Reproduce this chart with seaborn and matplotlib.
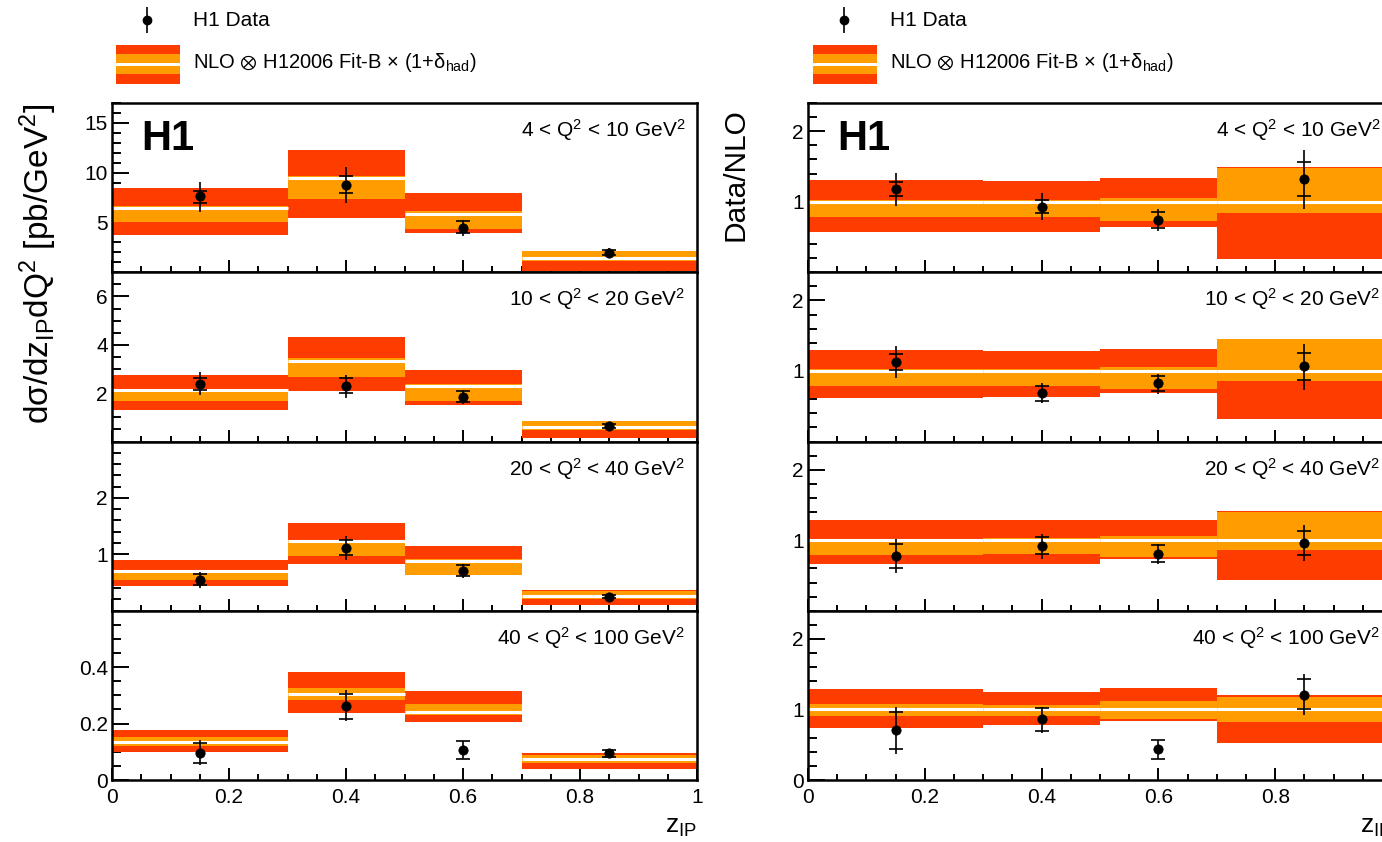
import numpy as np
import pandas as pd
import matplotlib
matplotlib.use("Agg")
import matplotlib.pyplot as plt
from matplotlib.patches import Rectangle
from matplotlib.ticker import FixedLocator, MultipleLocator, FuncFormatter
import seaborn as sns

# bins in z_IP and data point positions
bin_edges = [0.0, 0.3, 0.5, 0.7, 1.0]
z_points = [0.15, 0.4, 0.6, 0.85]
q2_labels = ["4 < Q$^\\mathregular{2}$ < 10 GeV$^\\mathregular{2}$",
             "10 < Q$^\\mathregular{2}$ < 20 GeV$^\\mathregular{2}$",
             "20 < Q$^\\mathregular{2}$ < 40 GeV$^\\mathregular{2}$",
             "40 < Q$^\\mathregular{2}$ < 100 GeV$^\\mathregular{2}$"]

# cross sections (left column), one row per Q2 bin
xs_data = [[7.64, 8.79, 4.44, 1.95], [2.38, 2.30, 1.85, 0.63],
           [0.54, 1.12, 0.71, 0.25], [0.097, 0.262, 0.108, 0.095]]
xs_stat_lo = [[7.0, 7.98, 3.91, 1.7], [2.15, 1.99, 1.63, 0.55],
              [0.46, 0.99, 0.62, 0.22], [0.060, 0.218, 0.075, 0.082]]
xs_stat_hi = [[8.2, 9.66, 5.12, 2.2], [2.63, 2.63, 2.08, 0.71],
              [0.65, 1.25, 0.81, 0.28], [0.131, 0.306, 0.140, 0.106]]
xs_tot_lo = [[6.1, 6.97, 3.67, 1.45], [1.92, 1.81, 1.56, 0.48],
             [0.40, 0.90, 0.58, 0.19], [0.052, 0.208, 0.075, 0.079]]
xs_tot_hi = [[9.1, 10.57, 5.29, 2.42], [2.86, 2.77, 2.12, 0.77],
             [0.68, 1.33, 0.82, 0.30], [0.141, 0.318, 0.140, 0.108]]
nlo_central = [[6.46, 9.46, 5.89, 1.45], [2.11, 3.33, 2.29, 0.59],
               [0.70, 1.23, 0.89, 0.26], [0.134, 0.304, 0.241, 0.075]]
nlo_scale_lo = [[5.08, 7.37, 4.38, 1.11], [1.67, 2.67, 1.68, 0.48],
                [0.55, 0.97, 0.64, 0.21], [0.120, 0.282, 0.232, 0.060]]
nlo_scale_hi = [[6.63, 9.63, 6.13, 2.09], [2.16, 3.45, 2.36, 0.84],
                [0.72, 1.26, 0.91, 0.35], [0.152, 0.327, 0.271, 0.089]]
nlo_tot_lo = [[3.74, 5.45, 3.91, 0.13], [1.29, 2.10, 1.53, 0.14],
              [0.447, 0.82, 0.63, 0.11], [0.099, 0.238, 0.205, 0.040]]
nlo_tot_hi = [[8.48, 12.26, 7.98, 2.15], [2.74, 4.32, 2.95, 0.86],
              [0.906, 1.56, 1.14, 0.36], [0.176, 0.382, 0.315, 0.094]]

# data / NLO (right column)
r_data = [[1.18, 0.93, 0.74, 1.32], [1.13, 0.69, 0.83, 1.07],
          [0.78, 0.92, 0.81, 0.96], [0.71, 0.86, 0.44, 1.20]]
r_stat_lo = [[1.08, 0.84, 0.63, 1.08], [1.02, 0.58, 0.71, 0.87],
             [0.61, 0.80, 0.69, 0.79], [0.44, 0.70, 0.30, 1.00]]
r_stat_hi = [[1.28, 1.03, 0.86, 1.57], [1.24, 0.79, 0.93, 1.25],
             [0.95, 1.05, 0.93, 1.13], [0.97, 1.02, 0.57, 1.43]]
r_tot_lo = [[0.94, 0.74, 0.59, 0.90], [0.90, 0.54, 0.68, 0.73],
            [0.53, 0.74, 0.67, 0.71], [0.37, 0.66, 0.30, 0.92]]
r_tot_hi = [[1.41, 1.12, 0.89, 1.74], [1.36, 0.83, 0.96, 1.38],
            [1.02, 1.09, 0.95, 1.21], [1.04, 1.04, 0.57, 1.50]]
r_central = [[1.0, 1.0, 1.0, 1.0]] * 4
r_scale_lo = [[0.78, 0.78, 0.73, 0.84], [0.79, 0.79, 0.75, 0.86],
              [0.79, 0.80, 0.76, 0.86], [0.91, 0.91, 0.86, 0.82]]
r_scale_hi = [[1.02, 1.02, 1.05, 1.48], [1.03, 1.03, 1.05, 1.45],
              [1.02, 1.03, 1.06, 1.40], [1.08, 1.07, 1.12, 1.17]]
r_tot_lo_nlo = [[0.57, 0.57, 0.64, 0.19], [0.62, 0.63, 0.69, 0.32],
                [0.66, 0.67, 0.73, 0.43], [0.74, 0.78, 0.84, 0.52]]
r_tot_hi_nlo = [[1.31, 1.29, 1.33, 1.49], [1.30, 1.285, 1.31, 1.46],
                [1.29, 1.28, 1.29, 1.41], [1.285, 1.25, 1.30, 1.21]]

# axis ranges / ticks
xs_ylims = [(0, 17), (0, 7), (0, 3), (0, 0.6)]
xs_yticks = [[5, 10, 15], [2, 4, 6], [1, 2], [0, 0.2, 0.4]]
xs_yminor = [1, 0.5, 0.2, 0.05]
r_ylims = [(0, 2.4)] * 4
r_yticks = [[1, 2], [1, 2], [1, 2], [0, 1, 2]]
x_ticks = [0, 0.2, 0.4, 0.6, 0.8, 1.0]

RED = "#ff3c00"
ORANGE = "#ff9c00"

sns.set_style("ticks")
plt.rcParams["font.family"] = ["Liberation Sans", "DejaVu Sans"]
plt.rcParams["mathtext.default"] = "regular"
for key in ["text.color", "axes.edgecolor", "xtick.color", "ytick.color", "axes.labelcolor"]:
    plt.rcParams[key] = "black"

W, H = 1382, 842
fig = plt.figure(figsize=(W / 100, H / 100), dpi=100)

# legend layer (pixel coordinates)
leg = fig.add_axes([0, 0, 1, 1])
leg.set_xlim(0, W)
leg.set_ylim(H, 0)
leg.axis("off")
for off in [0, 697]:
    leg.vlines(147 + off, 7, 33, color="black", lw=1.2)
    leg.plot([147 + off], [20], "o", color="black", ms=6)
    leg.text(193 + off, 21, "H1 Data", fontsize=15, va="center")
    leg.add_patch(Rectangle((116 + off, 45), 64, 39, color=RED, lw=0))
    leg.add_patch(Rectangle((116 + off, 54), 64, 20, color=ORANGE, lw=0))
    leg.add_patch(Rectangle((116 + off, 63), 64, 3, color="white", lw=0))
    leg.text(193 + off, 63,
             "NLO $\\otimes$ H12006 Fit-B $\\times$ (1+δ$_\\mathregular{had}$)",
             fontsize=14.5, va="center")

fmt = FuncFormatter(lambda v, p: "%g" % v)
fmt_right = FuncFormatter(lambda v, p: "" if v > 0.99 else "%g" % v)
lefts = np.array(bin_edges[:-1])
widths = np.diff(bin_edges)
rights = np.array(bin_edges[1:])


def draw_panel(ax, data, slo, shi, tlo, thi, cen, clo, chi, olo, ohi):
    ax.bar(lefts, np.subtract(ohi, olo), bottom=olo, width=widths,
           align="edge", color=RED, linewidth=0)
    ax.bar(lefts, np.subtract(chi, clo), bottom=clo, width=widths,
           align="edge", color=ORANGE, linewidth=0)
    ax.hlines(cen, lefts, rights, color="white", lw=2.2)
    ax.vlines(z_points, tlo, thi, color="black", lw=1.2, zorder=4)
    ax.plot(z_points, slo, "_", color="black", ms=10, mew=1.2, zorder=4)
    ax.plot(z_points, shi, "_", color="black", ms=10, mew=1.2, zorder=4)
    df = pd.DataFrame({"z": z_points, "val": data})
    sns.scatterplot(data=df, x="z", y="val", ax=ax, color="black", s=45,
                    edgecolor="black", zorder=5, legend=False)
    ax.set_xlabel("")
    ax.set_ylabel("")


top_px, panel_px = 103, 169.25
cols = [(112, 585), (808, 584)]
for col, (x0, wpx) in enumerate(cols):
    for i in range(4):
        y_top = top_px + i * panel_px
        ax = fig.add_axes([x0 / W, 1 - (y_top + panel_px) / H, wpx / W, panel_px / H])
        if col == 0:
            draw_panel(ax, xs_data[i], xs_stat_lo[i], xs_stat_hi[i], xs_tot_lo[i],
                       xs_tot_hi[i], nlo_central[i], nlo_scale_lo[i], nlo_scale_hi[i],
                       nlo_tot_lo[i], nlo_tot_hi[i])
            ax.set_ylim(*xs_ylims[i])
            ax.yaxis.set_major_locator(FixedLocator(xs_yticks[i]))
            ax.yaxis.set_minor_locator(MultipleLocator(xs_yminor[i]))
            ax.xaxis.set_major_formatter(fmt)
        else:
            draw_panel(ax, r_data[i], r_stat_lo[i], r_stat_hi[i], r_tot_lo[i],
                       r_tot_hi[i], r_central[i], r_scale_lo[i], r_scale_hi[i],
                       r_tot_lo_nlo[i], r_tot_hi_nlo[i])
            ax.set_ylim(*r_ylims[i])
            ax.yaxis.set_major_locator(FixedLocator(r_yticks[i]))
            ax.yaxis.set_minor_locator(MultipleLocator(0.2))
            # the "1" label falls outside the cropped figure
            ax.xaxis.set_major_formatter(fmt_right)
        ax.set_xlim(0, 1)
        ax.xaxis.set_major_locator(FixedLocator(x_ticks))
        ax.xaxis.set_minor_locator(MultipleLocator(0.05))
        ax.yaxis.set_major_formatter(fmt)
        ax.tick_params(axis="both", which="both", direction="in", width=1.4,
                       labelsize=15, top=False, right=False)
        ax.tick_params(axis="x", which="major", length=9, pad=6)
        ax.tick_params(axis="x", which="minor", length=4.5)
        ax.tick_params(axis="y", which="major", length=12, pad=3)
        ax.tick_params(axis="y", which="minor", length=6.5)
        if i < 3:
            ax.tick_params(axis="x", labelbottom=False)
        for s in ax.spines.values():
            s.set_linewidth(1.8)
        ax.text(0.98, 0.84, q2_labels[i], transform=ax.transAxes, ha="right",
                va="center", fontsize=15)
        if i == 0:
            ax.text(0.05, 0.79, "H1", transform=ax.transAxes, ha="left",
                    va="center", fontsize=30, fontweight="bold")

fig.text(38 / W, 1 - 103 / H,
         "dσ/dz$_\\mathregular{IP}$dQ$^\\mathregular{2}$ [pb/GeV$^\\mathregular{2}$]",
         rotation=90, ha="center", va="top", fontsize=24)
fig.text(735 / W, 1 - 108 / H, "Data/NLO", rotation=90, ha="center",
         va="top", fontsize=21.5)
fig.text(697 / W, 1 - 815 / H, "z$_\\mathregular{IP}$", ha="right", va="top",
         fontsize=19)
fig.text(1392 / W, 1 - 815 / H, "z$_\\mathregular{IP}$", ha="right", va="top",
         fontsize=19)

fig.savefig("out.png", dpi=100)
